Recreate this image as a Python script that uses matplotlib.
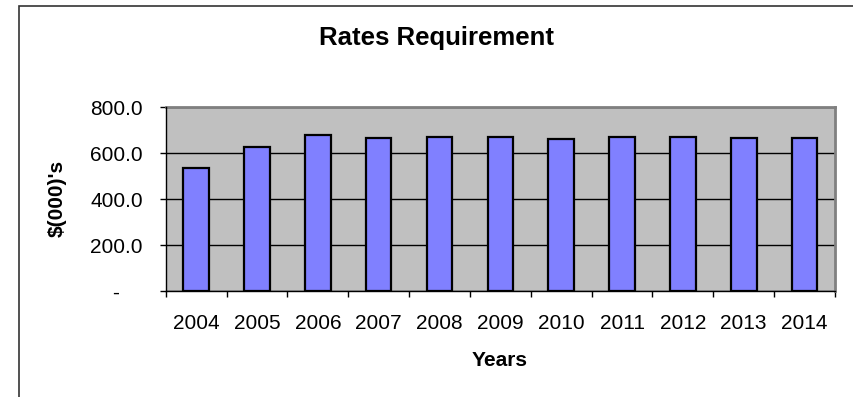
import matplotlib
matplotlib.use("Agg")
import matplotlib.pyplot as plt
from matplotlib.patches import Rectangle
from matplotlib.ticker import FixedLocator, FuncFormatter
import numpy as np

years = ["2004", "2005", "2006", "2007", "2008", "2009",
         "2010", "2011", "2012", "2013", "2014"]
rates = [536, 626, 680, 666, 672, 669, 663, 670, 670, 665, 667]
y_ticks = [0, 200, 400, 600, 800]

plt.rcParams['font.family'] = ['Liberation Sans', 'DejaVu Sans']

W, H = 854, 397
fig = plt.figure(figsize=(W / 100, H / 100), dpi=100)

# chart frame (runs off the right and bottom edges)
fig.patches.append(Rectangle((19 / W, -0.1), 1.2, 1.1 - 6 / H,
                             transform=fig.transFigure, fill=False,
                             edgecolor='#333333', linewidth=1.2))

ax = fig.add_axes([165.7 / W, 1 - 291.3 / H, (835 - 165.7) / W, (291.3 - 107.3) / H])
ax.set_facecolor('#C0C0C0')

x = np.arange(len(years))
ax.bar(x, rates, width=0.42, color='#8080FF', edgecolor='black',
       linewidth=1.6, zorder=3)

ax.set_xlim(-0.5, len(years) - 0.5)
ax.set_ylim(0, 800)

ax.yaxis.set_major_locator(FixedLocator(y_ticks))
ax.yaxis.set_major_formatter(FuncFormatter(
    lambda v, p: '-    ' if v == 0 else f'{v:.1f}'))
ax.grid(axis='y', color='black', linewidth=1.0, zorder=1)

ax.set_xticks(x)
ax.set_xticklabels(years)
ax.set_xticks(np.arange(-0.5, len(years)), minor=True)
ax.tick_params(axis='x', which='major', length=0, pad=16, labelsize=15)
ax.tick_params(axis='x', which='minor', length=4.5, width=1, color='black')
ax.tick_params(axis='y', length=4.5, width=1, pad=12, labelsize=15)

for side in ['top', 'right']:
    ax.spines[side].set_color('#808080')
    ax.spines[side].set_linewidth(2)
for side in ['left', 'bottom']:
    ax.spines[side].set_color('black')
    ax.spines[side].set_linewidth(1)
    ax.spines[side].set_zorder(4)

ax.set_ylabel("$(000)'s", fontsize=15, fontweight='bold')
ax.yaxis.set_label_coords(57 / W, 1 - 198 / H, transform=fig.transFigure)
ax.set_xlabel("Years", fontsize=15, fontweight='bold')
ax.xaxis.set_label_coords(500 / W, 1 - 360 / H, transform=fig.transFigure)
ax.xaxis.label.set_va('center')
ax.yaxis.label.set_va('center')

fig.text(437 / W, 1 - 38.5 / H, "Rates Requirement", fontsize=18.5,
         fontweight='bold', ha='center', va='center')

fig.savefig("out.png", dpi=100)
